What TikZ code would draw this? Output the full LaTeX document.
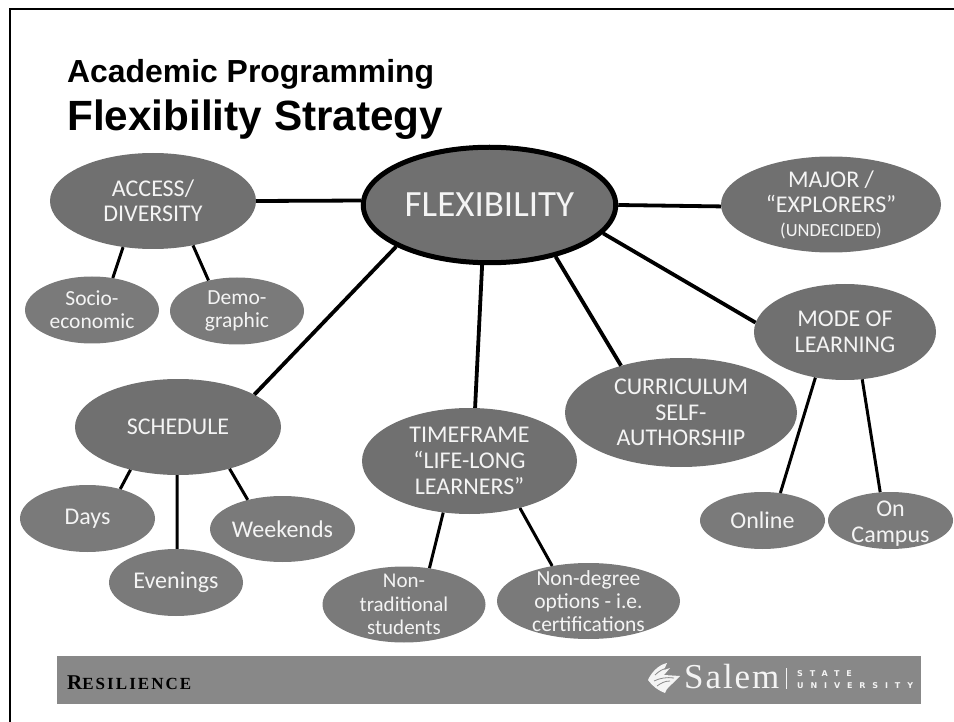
\documentclass[tikz,border=0pt]{standalone}
\usepackage{fontspec}
\setmainfont{Carlito}
\newfontfamily\titlefont{Liberation Sans}
\newfontfamily\serifface{Liberation Serif}
\newfontfamily\wideface{DejaVu Sans}
\usetikzlibrary{shapes.geometric}
\definecolor{bigfill}{HTML}{707070}
\definecolor{smallfill}{HTML}{7A7A7A}
\definecolor{bandfill}{HTML}{888888}
\definecolor{softwhite}{HTML}{F4F4F4}
\newcommand{\fs}[2]{\fontsize{#1}{#2}\selectfont}
\tikzset{
 blob/.style n args={2}{ellipse,fill=bigfill,text=softwhite,inner sep=-25pt,minimum width=#1,minimum height=#2,align=center},
 subblob/.style n args={2}{blob={#1}{#2},fill=smallfill},
 link/.style={line width=3.8pt,black},
 sublink/.style={line width=3pt,black},
 titletext/.style={anchor=base west,inner sep=0pt,text=black},
 streak/.style={bandfill,line width=.8pt},
}
\begin{document}
\begin{tikzpicture}[x=1pt,y=-1pt]
\useasboundingbox (0,0) rectangle (954,722);
\draw[line width=2.4pt,black] (10,722) -- (10,9) -- (954,9);
\node[titletext,font=\titlefont\bfseries\fs{31.9}{34}] (t1) at (67,83) {Academic Programming};
\node[titletext,font=\titlefont\bfseries\fs{42.3}{44}] (t2) at (67,131) {Flexibility Strategy};

\node[blob={252.5pt}{115.5pt},draw=black,line width=5pt,font=\fs{37}{39}] (flex) at (489.5,205) {FLEXIBILITY};
\node[blob={206pt}{96pt},font=\fs{24}{25}] (access) at (153,201) {ACCESS/\\DIVERSITY};
\node[blob={220pt}{96pt},font=\fs{24}{25}] (major) at (831,204.5) {MAJOR /\\“EXPLORERS”\\[-1pt]{\fs{18.5}{20}(UNDECIDED)}};
\node[subblob={134pt}{67pt},font=\fs{21.5}{23}] (socio) at (92,310) {Socio-\\economic};
\node[subblob={134pt}{67pt},font=\fs{21.5}{23}] (demo) at (237,311) {Demo-\\graphic};
\node[blob={206pt}{96pt},font=\fs{24}{26}] (schedule) at (178,427) {SCHEDULE};
\node[subblob={135pt}{67pt},font=\fs{24}{26}] (days) at (87.5,518.5) {Days};
\node[subblob={134pt}{67pt},font=\fs{24}{26}] (evenings) at (176,582.5) {Evenings};
\node[subblob={145pt}{66pt},font=\fs{24}{26}] (weekends) at (282.5,529) {Weekends};
\node[blob={215pt}{106pt},font=\fs{24}{26}] (timeframe) at (469.5,461) {TIMEFRAME\\“LIFE-LONG\\LEARNERS”};
\node[blob={232pt}{109pt},font=\fs{24}{25.5}] (curriculum) at (681,412.5) {CURRICULUM\\SELF-\\AUTHORSHIP};
\node[blob={182pt}{96pt},font=\fs{24}{26}] (mode) at (845,332) {MODE OF\\LEARNING};
\node[subblob={125pt}{57pt},font=\fs{24}{26}] (online) at (762.5,520.5) {Online};
\node[subblob={125pt}{57pt},font=\fs{24}{26}] (campus) at (890.5,520.5) {\rule{0pt}{22pt}On\\Campus};
\node[subblob={163pt}{76pt},font=\fs{21}{23.5}] (nontrad) at (404,604.5) {Non-\\traditional\\students};
\node[subblob={183pt}{76pt},font=\fs{21.5}{23}] (nondeg) at (588.5,601) {Non-degree\\options - i.e.\\certifications};

\draw[link] (flex.178) -- (access.0);
\draw[link] (flex.0) -- (major.181);
\draw[sublink] (access.237) -- (socio.57);
\draw[sublink] (access.312) -- (demo.133);
\draw[link] (flex.204) -- (schedule.23.8);
\draw[link] (flex.263) -- (timeframe.84);
\draw[link] (flex.322) -- (curriculum.142.7);
\draw[link] (flex.346) -- (mode.174.3);
\draw[sublink] (schedule.222) -- (days.42);
\draw[sublink] (schedule.269) -- (evenings.88);
\draw[sublink] (schedule.321) -- (weekends.140);
\draw[sublink] (timeframe.243) -- (nontrad.55.6);
\draw[sublink] (timeframe.317.6) -- (nondeg.136);
\draw[sublink] (mode.237) -- (online.57);
\draw[sublink] (mode.290) -- (campus.110);

\fill[bandfill] (57,656) rectangle (921,704);
\node[anchor=base west,inner sep=0pt,text=black,font=\serifface\bfseries\fs{21}{24}] (res) at (67,689) {\addfontfeatures{LetterSpace=3}R{\fs{17}{24}\addfontfeatures{LetterSpace=12}ESILIENCE}};
% sail emblem
\fill[softwhite] (648,680) .. controls (651,673) and (658,665) .. (667,663) -- (664,670) -- (670,668) -- (664,675) -- (680,676) .. controls (673,684) and (666,688) .. (665,693) .. controls (659,691) and (652,686) .. (648,680) -- cycle;
\draw[streak] (655,675) .. controls (659,671) and (663,669) .. (667,668);
\draw[streak] (654,681) .. controls (660,678) and (667,677) .. (674,678);
\draw[streak] (657,686) .. controls (661,683) and (665,681) .. (670,681);
\node[anchor=base west,inner sep=0pt,text=softwhite,font=\serifface\fs{35}{37}] (salem) at (684,688) {\addfontfeatures{LetterSpace=5.5}Salem};
\draw[softwhite,line width=.6pt] (786,668) -- (786,689);
\node[anchor=base west,inner sep=0pt,text=softwhite,font=\wideface\bfseries\fs{8}{9}] (st) at (797,676) {\addfontfeatures{LetterSpace=86}STATE};
\node[anchor=base west,inner sep=0pt,text=softwhite,font=\wideface\bfseries\fs{8}{9}] (un) at (797,688) {\addfontfeatures{LetterSpace=86}UNIVERSITY};
\end{tikzpicture}
\end{document}
